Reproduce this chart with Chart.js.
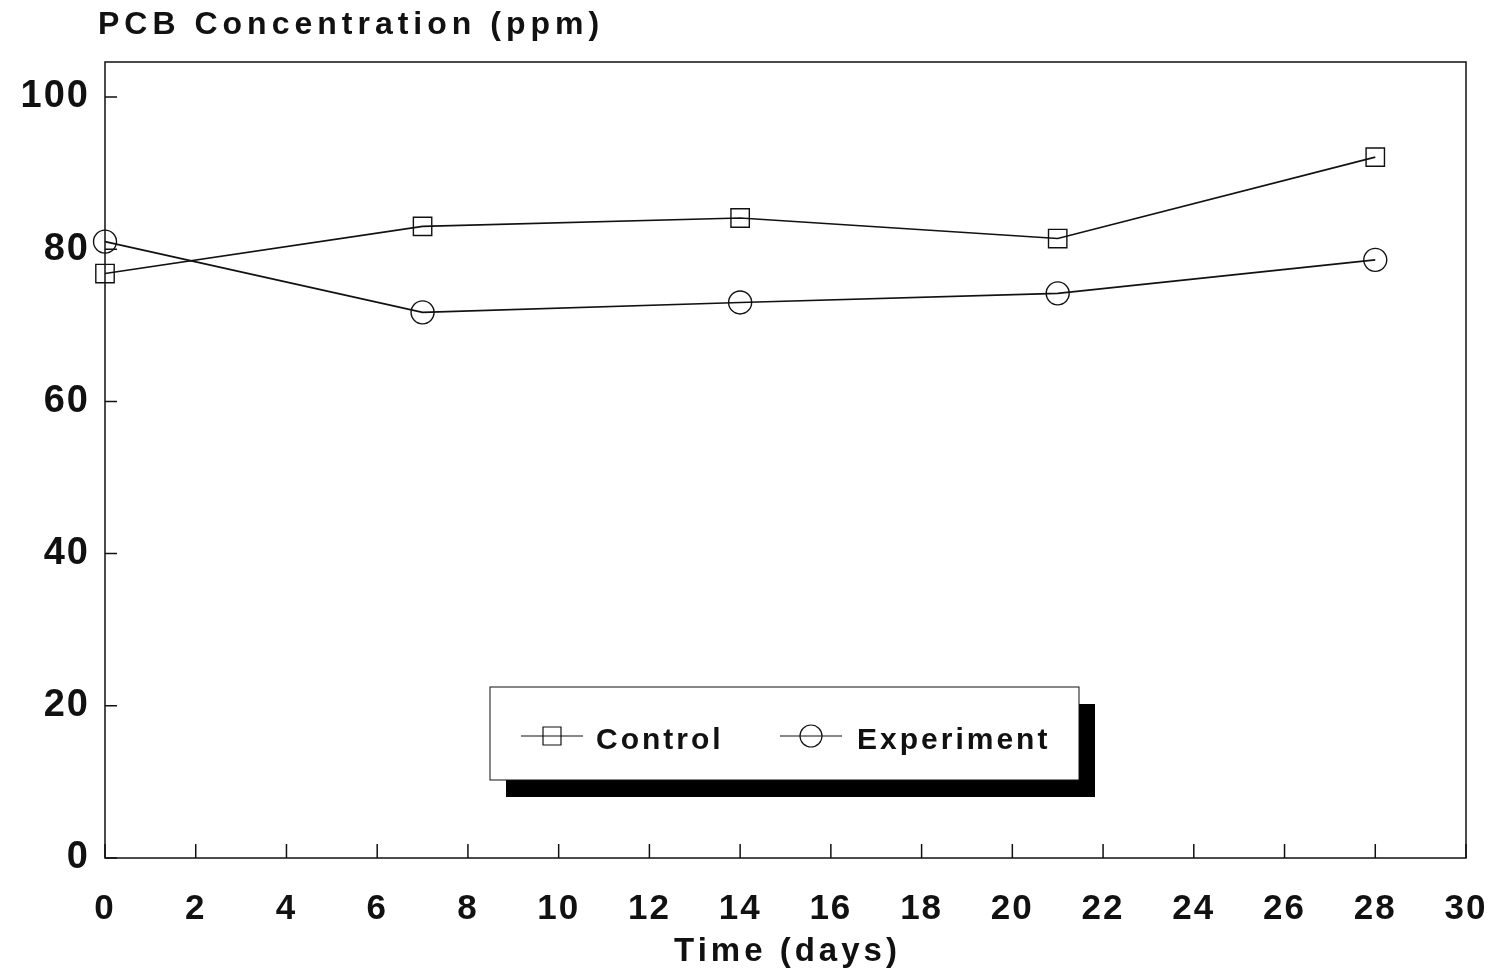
<!DOCTYPE html>
<html>
<head>
<meta charset="utf-8">
<title>PCB Concentration</title>
<script src="https://cdn.jsdelivr.net/npm/chart.js@4.4.1/dist/chart.umd.min.js"></script>
<style>
  html, body { margin: 0; padding: 0; background: #fff; }
  #wrap { width: 1501px; height: 976px; position: relative; }
</style>
</head>
<body>
<div id="wrap"><canvas id="pcbChart"></canvas></div>
<script>
// values
const days = [0, 7, 14, 21, 28];
const controlPpm = [76.8, 83.0, 84.1, 81.4, 92.1];
const experimentPpm = [81.0, 71.7, 73.0, 74.2, 78.6];
const seriesNames = ['Control', 'Experiment'];
const yTitle = 'PCB Concentration (ppm)';
const xTitle = 'Time (days)';

const ink = '#111';
const font = 'Liberation Sans, Arial, Helvetica, sans-serif';

const toPoints = (ys) => days.map((d, i) => ({ x: d, y: ys[i] }));

// box round the plot, inward tick marks, titles and the shadowed legend
const frame = {
    id: 'frame',
    beforeDraw(chart) {
        chart.ctx.letterSpacing = '2px';
    },
    beforeDatasetsDraw(chart) {
        chart.ctx.letterSpacing = '0px';
    },
    afterDraw(chart) {
        const { ctx, chartArea: a, scales } = chart;
        ctx.save();
        ctx.strokeStyle = ink;
        ctx.lineWidth = 1.5;
        ctx.strokeRect(a.left, a.top, a.right - a.left, a.bottom - a.top);

        ctx.beginPath();
        scales.x.ticks.forEach(t => {
            const px = scales.x.getPixelForValue(t.value);
            ctx.moveTo(px, a.bottom);
            ctx.lineTo(px, a.bottom - 14);
        });
        scales.y.ticks.forEach(t => {
            const py = scales.y.getPixelForValue(t.value);
            ctx.moveTo(a.left, py);
            ctx.lineTo(a.left + 12, py);
        });
        ctx.stroke();

        ctx.fillStyle = ink;
        ctx.textBaseline = 'middle';
        ctx.letterSpacing = '5px';
        ctx.font = 'bold 32px ' + font;
        ctx.textAlign = 'left';
        ctx.fillText(yTitle, 98, 25);

        ctx.letterSpacing = '4px';
        ctx.font = 'bold 33px ' + font;
        ctx.textAlign = 'center';
        ctx.fillText(xTitle, (a.left + a.right) / 2 + 2, 952);

        // legend
        const bx = 490, by = 687, bw = 589, bh = 93;
        ctx.fillStyle = '#000';
        ctx.fillRect(bx + 16, by + 17, bw, bh);
        ctx.fillStyle = '#fff';
        ctx.fillRect(bx, by, bw, bh);
        ctx.strokeStyle = ink;
        ctx.lineWidth = 1;
        ctx.strokeRect(bx, by, bw, bh);

        const items = [
            { x0: 521, text: 596 },
            { x0: 780, text: 857 }
        ];
        const cy = by + 54;
        chart.data.datasets.forEach((ds, i) => {
            const it = items[i];
            ctx.strokeStyle = ink;
            ctx.lineWidth = 1.2;
            ctx.beginPath();
            ctx.moveTo(it.x0, cy - 5);
            ctx.lineTo(it.x0 + 62, cy - 5);
            ctx.stroke();
            ctx.beginPath();
            if (ds.pointStyle === 'rect') {
                ctx.rect(it.x0 + 22, cy - 14, 18, 18);
            } else {
                ctx.arc(it.x0 + 31, cy - 5, 11, 0, Math.PI * 2);
            }
            ctx.stroke();
            ctx.fillStyle = ink;
            ctx.letterSpacing = '3px';
            ctx.font = 'bold 30px ' + font;
            ctx.textAlign = 'left';
            ctx.textBaseline = 'middle';
            ctx.fillText(ds.label, it.text, cy);
        });
        ctx.restore();
    }
};

new Chart(document.getElementById('pcbChart'), {
    type: 'line',
    data: {
        datasets: [{
            label: seriesNames[0],
            data: toPoints(controlPpm),
            borderColor: ink,
            borderWidth: 1.6,
            pointStyle: 'rect',
            pointRadius: 13,
            pointBorderWidth: 1.4,
            pointBorderColor: ink,
            pointBackgroundColor: 'rgba(0,0,0,0)',
            tension: 0,
            clip: false
        }, {
            label: seriesNames[1],
            data: toPoints(experimentPpm),
            borderColor: ink,
            borderWidth: 1.6,
            pointStyle: 'circle',
            pointRadius: 11.5,
            pointBorderWidth: 1.4,
            pointBorderColor: ink,
            pointBackgroundColor: 'rgba(0,0,0,0)',
            tension: 0,
            clip: false
        }]
    },
    options: {
        responsive: true,
        maintainAspectRatio: false,
        animation: false,
        layout: { padding: { top: 62, right: 35, left: 0, bottom: 0 } },
        plugins: {
            legend: { display: false },
            tooltip: { enabled: false }
        },
        scales: {
            x: {
                type: 'linear',
                min: 0,
                max: 30,
                grid: { display: false, drawTicks: false },
                border: { display: false },
                ticks: {
                    stepSize: 2,
                    color: ink,
                    padding: 30,
                    font: { family: font, size: 35, weight: 'bold' }
                },
                afterFit(axis) {
                    axis.height = 118;
                    axis.paddingLeft = 0;
                    axis.paddingRight = 0;
                }
            },
            y: {
                min: 0,
                max: 104.6,
                grid: { display: false, drawTicks: false },
                border: { display: false },
                ticks: {
                    stepSize: 20,
                    includeBounds: false,
                    color: ink,
                    padding: 15,
                    font: { family: font, size: 38, weight: 'bold' }
                },
                afterFit(axis) {
                    axis.width = 105;
                    axis.paddingTop = 0;
                    axis.paddingBottom = 0;
                }
            }
        }
    },
    plugins: [frame]
});
</script>
</body>
</html>
